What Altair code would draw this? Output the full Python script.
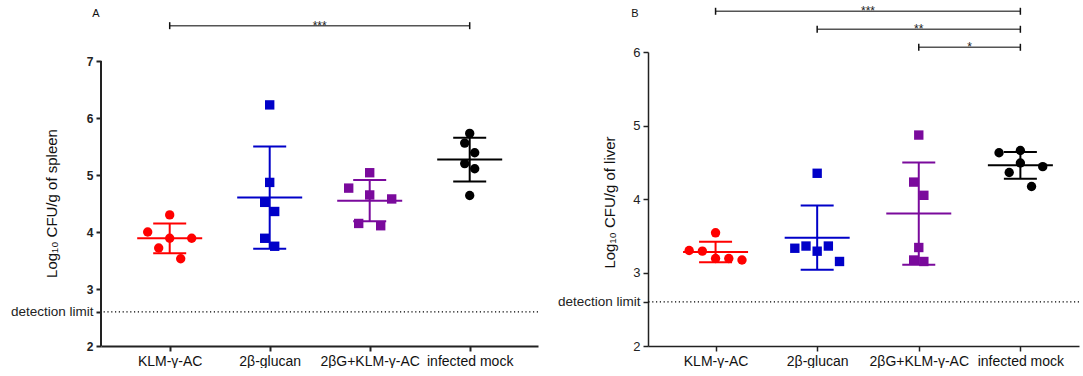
import json
import altair as alt
import pandas as pd

groups = ["KLM-γ-AC", "2β-glucan", "2βG+KLM-γ-AC", "infected mock"]
group_colors = ["#FF0000", "#0000C8", "#7A0A9C", "#000000"]
group_shapes = ["circle", "square", "square", "circle"]

# Log10 CFU per gram of spleen, six animals per group
spleen_klm = [4.30, 4.00, 3.89, 3.89, 3.72, 3.53]
spleen_glucan = [6.23, 4.87, 4.52, 4.36, 3.89, 3.75]
spleen_combo = [5.04, 4.77, 4.65, 4.58, 4.15, 4.11]
spleen_mock = [5.73, 5.56, 5.39, 5.20, 5.11, 4.64]
# horizontal scatter of each animal inside its column (group units)
spleen_klm_spread = [0, -0.22, 0, 0.22, -0.11, 0.11]
spleen_glucan_spread = [0, 0, -0.05, 0.05, -0.05, 0.05]
spleen_combo_spread = [0, -0.21, 0, 0.22, -0.11, 0.11]
spleen_mock_spread = [0, -0.05, 0.05, -0.05, 0.05, 0]

# Log10 CFU per gram of liver
liver_klm = [3.54, 3.30, 3.29, 3.19, 3.19, 3.17]
liver_glucan = [4.35, 3.33, 3.36, 3.29, 3.36, 3.15]
liver_combo = [4.87, 4.23, 4.05, 3.34, 3.17, 3.15]
liver_mock = [4.66, 4.63, 4.49, 4.44, 4.36, 4.17]
liver_klm_spread = [0, -0.26, -0.13, 0, 0.13, 0.26]
liver_glucan_spread = [0, -0.22, -0.11, 0, 0.11, 0.22]
liver_combo_spread = [0, -0.05, 0.05, 0, -0.05, 0.05]
liver_mock_spread = [0, -0.21, 0, 0.22, -0.11, 0.11]

detection_limit = 2.6

# pairwise comparisons: first group, second group, bracket height, stars
spleen_test_from = [1]
spleen_test_to = [4]
spleen_test_level = [7.62]
spleen_test_stars = ["***"]

liver_test_from = [1, 2, 3]
liver_test_to = [4, 4, 4]
liver_test_level = [6.554, 6.309, 6.064]
liver_test_stars = ["***", "**", "*"]

FONT = "Liberation Sans"


def animals(value_lists, spread_lists):
    rows = []
    for gi, (vals, spr) in enumerate(zip(value_lists, spread_lists)):
        for v, s in zip(vals, spr):
            rows.append({"group": groups[gi], "g": gi + 1, "value": v, "xpos": gi + 1 + s})
    return pd.DataFrame(rows)


def panel(df, tests, x_dom, y_dom, y_ticks, y_title, letter, width, height,
          bold, axis_w, title_x, title_y, letter_x, draw_axis_line):
    xs = alt.Scale(domain=x_dom, nice=False, zero=False)
    ys = alt.Scale(domain=y_dom, nice=False, zero=False)
    color = alt.Color("group:N", scale=alt.Scale(domain=groups, range=group_colors), legend=None)
    shape = alt.Shape("group:N", scale=alt.Scale(domain=groups, range=group_shapes), legend=None)

    x_axis = alt.Axis(
        values=[1, 2, 3, 4],
        labelExpr=json.dumps(groups) + "[round(datum.value) - 1]",
        title=None, grid=False,
        domainColor="#222", domainWidth=axis_w,
        tickColor="#222", tickWidth=axis_w, tickSize=5,
        labelFont=FONT, labelFontSize=14, labelColor="#111", labelPadding=3,
    )
    is_lim = f"abs(datum.value - {detection_limit}) < 0.001"
    y_axis = alt.Axis(
        values=y_ticks + [detection_limit],
        labelExpr=f"{is_lim} ? 'detection limit' : format(datum.value, 'd')",
        title=y_title, titleFont=FONT, titleFontSize=15, titleFontWeight="normal",
        titleColor="#111", titleX=title_x, titleY=title_y,
        titleAlign="center", titleBaseline="middle",
        grid=False, domain=not draw_axis_line,
        domainColor="#222", domainWidth=axis_w,
        tickColor="#222", tickWidth=axis_w, tickSize=5,
        labelFont=FONT, labelColor="#222", labelPadding=3,
        labelFontSize={"condition": {"test": is_lim, "value": 13.5}, "value": 12 if bold else 13},
        labelFontWeight={"condition": {"test": is_lim, "value": "normal"},
                         "value": "bold" if bold else "normal"},
    )

    def X(field):
        return alt.X(field, type="quantitative", scale=xs, axis=x_axis)

    def Y(field):
        return alt.Y(field, type="quantitative", scale=ys, axis=y_axis)

    limit = alt.Chart(pd.DataFrame({"lim": [detection_limit]})).mark_rule(
        color="#000", strokeWidth=1.2, strokeDash=[1.2, 2.6]
    ).encode(y=Y("lim"))

    base = alt.Chart(df)
    stats = base.transform_aggregate(
        mean="mean(value)", sd="stdev(value)", groupby=["group", "g"]
    ).transform_calculate(
        lo="datum.mean - datum.sd", hi="datum.mean + datum.sd"
    )
    sd_line = stats.mark_rule(strokeWidth=2, opacity=1).encode(
        x=X("g"), y=Y("lo"), y2="hi:Q", color=color)
    mean_tick = stats.mark_tick(orient="horizontal", size=65, thickness=2, opacity=1).encode(
        x=X("g"), y=Y("mean"), color=color)
    lo_cap = stats.mark_tick(orient="horizontal", size=33, thickness=2, opacity=1).encode(
        x=X("g"), y=Y("lo"), color=color)
    hi_cap = stats.mark_tick(orient="horizontal", size=33, thickness=2, opacity=1).encode(
        x=X("g"), y=Y("hi"), color=color)

    points = base.mark_point(filled=True, opacity=1, size=88, strokeWidth=0).encode(
        x=X("xpos"), y=Y("value"), color=color, shape=shape)

    tdf = pd.DataFrame({"a": tests[0], "b": tests[1], "lev": tests[2], "stars": tests[3]})
    tdf["mid"] = (tdf["a"] + tdf["b"]) / 2
    tbase = alt.Chart(tdf)
    bracket = tbase.mark_rule(color="#555", strokeWidth=1.5).encode(
        x=X("a"), x2="b:Q", y=Y("lev"))
    cap_a = tbase.mark_tick(orient="vertical", size=7, thickness=1.5, color="#111", opacity=1).encode(
        x=X("a"), y=Y("lev"))
    cap_b = tbase.mark_tick(orient="vertical", size=7, thickness=1.5, color="#111", opacity=1).encode(
        x=X("b"), y=Y("lev"))
    stars = tbase.mark_text(font=FONT, fontSize=12, color="#222", baseline="alphabetic", dy=4).encode(
        x=X("mid"), y=Y("lev"), text="stars:N")

    tag = alt.Chart(pd.DataFrame({"t": [letter]})).mark_text(
        font=FONT, fontSize=11, color="#111").encode(
        text="t:N", x=alt.value(letter_x), y=alt.value(-38))

    layers = [limit, sd_line, mean_tick, lo_cap, hi_cap, points, bracket, cap_a, cap_b, stars, tag]
    if draw_axis_line:
        axis_line = alt.Chart(pd.DataFrame({"a": [y_ticks[0]], "b": [y_ticks[-1]]})).mark_rule(
            color="#222", strokeWidth=axis_w).encode(x=alt.value(0), y=Y("a"), y2="b:Q")
        layers.append(axis_line)
    return alt.layer(*layers).properties(width=width, height=height)


spleen_df = animals([spleen_klm, spleen_glucan, spleen_combo, spleen_mock],
                    [spleen_klm_spread, spleen_glucan_spread, spleen_combo_spread, spleen_mock_spread])
liver_df = animals([liver_klm, liver_glucan, liver_combo, liver_mock],
                   [liver_klm_spread, liver_glucan_spread, liver_combo_spread, liver_mock_spread])

spleen_panel = panel(
    spleen_df,
    (spleen_test_from, spleen_test_to, spleen_test_level, spleen_test_stars),
    x_dom=[0.313, 4.683], y_dom=[2, 7.158], y_ticks=[2, 3, 4, 5, 6, 7],
    y_title="Log₁₀ CFU/g of spleen", letter="A", width=437, height=294,
    bold=True, axis_w=2, title_x=-50, title_y=151, letter_x=-5, draw_axis_line=True,
)
liver_panel = panel(
    liver_df,
    (liver_test_from, liver_test_to, liver_test_level, liver_test_stars),
    x_dom=[0.335, 4.577], y_dom=[2, 6], y_ticks=[2, 3, 4, 5, 6],
    y_title="Log₁₀ CFU/g of liver", letter="B", width=431, height=294,
    bold=False, axis_w=1.5, title_x=-39, title_y=150, letter_x=-13, draw_axis_line=False,
)

chart = alt.hconcat(spleen_panel, liver_panel, spacing=18).properties(
    padding={"left": 10, "top": 5, "right": 0, "bottom": 0}
).configure_view(stroke=None)

chart.save("out.html", embed_options={"renderer": "svg", "actions": False})
